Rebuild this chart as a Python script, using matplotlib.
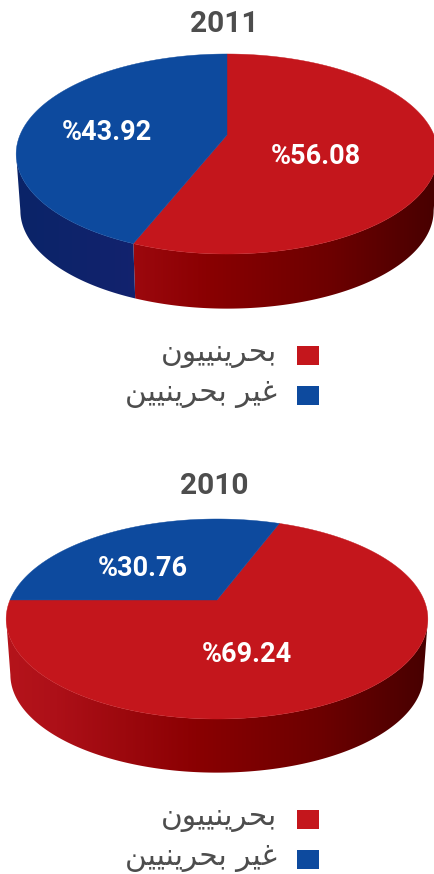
import numpy as np
import matplotlib
matplotlib.use("Agg")
import matplotlib.pyplot as plt
from matplotlib.colors import LinearSegmentedColormap
from matplotlib.patches import Rectangle

# Data
years = ["2011", "2010"]
shares_2011 = [56.08, 43.92]
shares_2010 = [69.24, 30.76]
# bahrainis / non bahrainis, written as joined glyphs in visual order
# because matplotlib does not shape arabic by itself
legend_labels = ["\ufee5\ufeee\ufef4\ufef4\ufee8\ufef3\ufeae\ufea4\ufe91",
                 "\ufee6\ufef4\ufef4\ufee8\ufef3\ufeae\ufea4\ufe91 \ufeae\ufef4\ufecf"]

RED = "#c4161c"
BLUE = "#0d4a9e"
TEXT = "#4d4d4d"
RED_SIDE = LinearSegmentedColormap.from_list(
    "red_side", [(0, "#b5141b"), (0.12, "#ad1018"), (0.45, "#8a0002"),
                 (0.75, "#6c0000"), (1, "#470000")])
BLUE_SIDE = LinearSegmentedColormap.from_list(
    "blue_side", [(0, "#0a2468"), (0.3, "#13226e"), (1, "#13226e")])

# perspective of the disc
TILT = 0.19
RADIUS_X = 207
RADIUS_Y = 96.4
LOWER_SCALE = 0.98


def project(angles):  # circle angle (degrees) -> offset from the pie centre
    u = np.cos(np.radians(angles))
    v = np.sin(np.radians(angles))
    w = 1 + TILT * v
    return RADIUS_X * u / w, RADIUS_Y * v / w


def draw_pie(ax, shares, cx, cy, depth, start):
    colors = [RED, BLUE]
    sides = [RED_SIDE, BLUE_SIDE]
    left = cx - 212
    right = cx + 212
    gradient = np.linspace(0, 1, 425).reshape(1, -1)
    angle = start
    wedges = []
    for share in shares:
        wedges.append(np.linspace(angle, angle - share * 3.6, 900))
        angle -= share * 3.6

    # side wall first, the top covers whatever sticks out
    for arc, cmap in zip(wedges, sides):
        # only from the widest points of the disc round the front
        front = arc[np.sin(np.radians(arc)) <= -TILT]
        if len(front) < 2:
            continue
        x, y = project(front)
        xs = np.concatenate([cx + x, cx + x[::-1] * LOWER_SCALE])
        ys = np.concatenate([cy - y, cy - y[::-1] * LOWER_SCALE + depth])
        outline = ax.fill(xs, ys, color="none", lw=0)[0]
        im = ax.imshow(gradient, cmap=cmap, aspect="auto", vmin=0, vmax=1,
                       extent=(left, right, cy + 190, cy - 100), zorder=1)
        im.set_clip_path(outline)

    for arc, color in zip(wedges, colors):
        x, y = project(arc)
        ax.fill(np.r_[cx, cx + x], np.r_[cy, cy - y], color=color, lw=0.3, zorder=2)


fig = plt.figure(figsize=(4.35, 8.74), dpi=100)
ax = fig.add_axes([0, 0, 1, 1])

draw_pie(ax, shares_2011, 227, 135, 57, 90)
draw_pie(ax, shares_2010, 217, 600, 56, shares_2010[0])

ax.set_xlim(0, 435)
ax.set_ylim(874, 0)
ax.axis("off")

font = ["Roboto", "DejaVu Sans"]
ax.text(224, 23.5, years[0], fontsize=21.5, fontweight="bold", color=TEXT, family=font,
        ha="center", va="center")
ax.text(214.5, 486, years[1], fontsize=21.5, fontweight="bold", color=TEXT, family=font,
        ha="center", va="center")

label_spots = [[(316, 157), (107, 132)], [(247, 654), (143, 568)]]
for shares, spots in zip([shares_2011, shares_2010], label_spots):
    for share, (x, y) in zip(shares, spots):
        ax.text(x, y, "%" + f"{share:.2f}", fontsize=19.5, fontweight="bold", color="white",
                family=font, ha="center", va="center", zorder=3)

# legends
for top in [346, 810]:
    for i, (label, color) in enumerate(zip(legend_labels, [RED, BLUE])):
        y = top + i * 40
        ax.add_patch(Rectangle((297, y), 22, 19, color=color, lw=0))
        ax.text(277, y + 8, label, fontsize=21.3, color=TEXT, family="DejaVu Sans",
                ha="right", va="center")

fig.savefig("out.png", dpi=100)
